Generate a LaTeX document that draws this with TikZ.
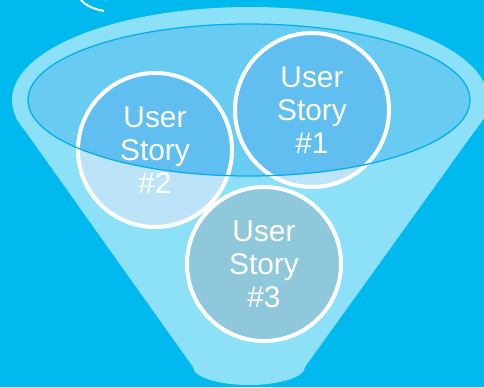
\documentclass[tikz,border=0pt]{standalone}
\usepackage{fontspec}
\setmainfont{Liberation Sans}
\usetikzlibrary{positioning}
\definecolor{bgblue}{HTML}{00B9EE}
\definecolor{funnelblue}{HTML}{8CE0F8}
\definecolor{rimblue}{HTML}{68CCF2}
\definecolor{rimline}{HTML}{00AEEF}
\definecolor{storyblue}{HTML}{60BEF0}
\definecolor{storypale}{HTML}{BDE3F8}
\definecolor{storygrey}{HTML}{8FC8DA}
\tikzstyle{story} = [circle, draw=white, line width=2.3pt, minimum size=3.08cm, inner sep=0pt, text=white, align=center, font=\fontsize{17}{18.7}\selectfont]
\tikzstyle{rim} = [x radius=4.42cm, y radius=1.52cm]
\tikzstyle{inrim} = [path picture={\fill[storyblue] (rimc) ellipse [rim];}]

\begin{document}
\begin{tikzpicture}[x=0.2mm, y=-0.2mm]
		% background
		\useasboundingbox (0,0) rectangle (484,387);
		\clip (0,0) rectangle (484,387);
		\fill[bgblue] (0,0) rectangle (484,387);
		\draw[white, line width=1.1pt] (81,0) .. controls (86,6) and (94,9) .. (104,11);
		% funnel body
		\fill[funnelblue] (250,100) ellipse [x radius=4.76cm, y radius=1.86cm];
		\fill[funnelblue] (16,118) -- (484,118) -- (305,367) -- (193,367) -- cycle;
		\fill[funnelblue] (249,367) ellipse [x radius=1.12cm, y radius=0.36cm];
		% funnel opening
		\coordinate (rimc) at (249,100);
		\fill[rimblue] (rimc) ellipse [rim];
		% user stories
		\node[story, fill=storypale, inrim] (us1) at (312,110) {User\\Story\\\#1};
		\node[story, fill=storypale, inrim] (us2) at (155,150) {User\\Story\\\#2};
		\node[story, fill=storygrey] (us3) at (264,264) {User\\Story\\\#3};
		% rim line
		\draw[rimline, line width=0.7pt] (rimc) ellipse [rim];
	\end{tikzpicture}
\end{document}
